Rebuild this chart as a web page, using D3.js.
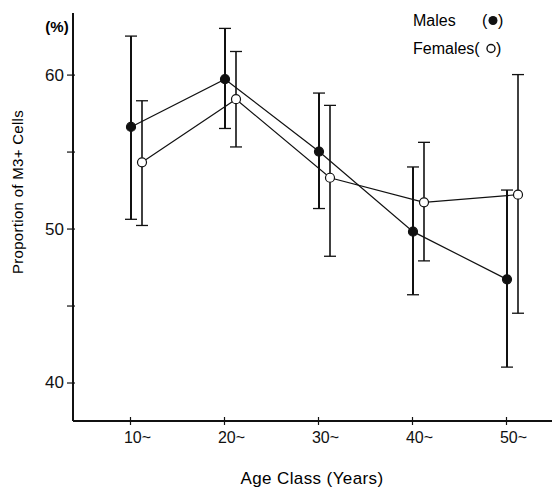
<!DOCTYPE html>
<html>
<head>
<meta charset="utf-8">
<script src="https://cdn.jsdelivr.net/npm/d3@7"></script>
<style>
	body { margin: 0; background: #fff; }
	svg { font-family: "Liberation Sans", Arial, sans-serif; }
	.axis path, .axis line { stroke: #111; }
	.axis text { fill: #111; }
</style>
</head>
<body>
<svg width="552" height="487"></svg>
<script>
(function() {

	//DATA
	var ageClasses = [10, 20, 30, 40, 50];
	var tickLabels = ['10~', '20~', '30~', '40~', '50~'];
	var yTicks = [40, 45, 50, 55, 60];
	var yTickLabels = ['40', '', '50', '', '60'];

	var maleMean = [56.6, 59.7, 55.0, 49.8, 46.7];
	var maleHigh = [62.5, 63.0, 58.8, 54.0, 52.5];
	var maleLow  = [50.6, 56.5, 51.3, 45.7, 41.0];

	var femaleMean = [54.3, 58.4, 53.3, 51.7, 52.2];
	var femaleHigh = [58.3, 61.5, 58.0, 55.6, 60.0];
	var femaleLow  = [50.2, 55.3, 48.2, 47.9, 44.5];

	//VARS
	var svg = d3.select('svg');
	var axisLeft = 73, axisRight = 552, axisTop = 13, axisBottom = 421;
	var femaleShift = 12;

	var x = d3.scaleLinear().domain([10, 50]).range([130, 506]);
	var y = d3.scaleLinear().domain([37.5, 64]).range([axisBottom, axisTop]);

	function rows(mean, high, low, shift) {
		return ageClasses.map(function(a, i) {
			return { x: x(a) + shift, mean: mean[i], high: high[i], low: low[i] };
		});
	}
	var males = rows(maleMean, maleHigh, maleLow, 1);
	var females = rows(femaleMean, femaleHigh, femaleLow, femaleShift);

	// AXES
	svg.append('line')
		.attr('x1', axisLeft).attr('x2', axisLeft)
		.attr('y1', axisTop).attr('y2', axisBottom)
		.attr('stroke', '#111').attr('stroke-width', 2);

	svg.append('line')
		.attr('x1', axisLeft).attr('x2', axisRight)
		.attr('y1', axisBottom).attr('y2', axisBottom)
		.attr('stroke', '#111').attr('stroke-width', 2);

	var yAxis = svg.append('g')
		.attr('class', 'axis')
		.attr('transform', 'translate(' + axisLeft + ',0)')
		.call(d3.axisLeft(y).tickValues(yTicks).tickSize(6).tickPadding(3)
			.tickFormat(function(d, i) { return yTickLabels[i]; }));
	yAxis.select('.domain').remove();
	yAxis.selectAll('line').attr('x2', -6).attr('x1', 2).attr('stroke-width', 1.2);
	yAxis.selectAll('text').style('font-size', '17px');

	var xAxis = svg.append('g')
		.attr('class', 'axis')
		.attr('transform', 'translate(0,' + axisBottom + ')')
		.call(d3.axisBottom(x).tickValues(ageClasses).tickSize(4).tickPadding(7)
			.tickFormat(function(d, i) { return tickLabels[i]; }));
	xAxis.select('.domain').remove();
	xAxis.selectAll('line').attr('y1', -4).attr('stroke-width', 1.2);
	xAxis.selectAll('text').attr('dx', 7).style('font-size', '16px');

	svg.append('text')
		.attr('x', 57).attr('y', 32)
		.attr('text-anchor', 'middle')
		.style('font-size', '15px').style('font-weight', 'bold')
		.text('(%)');

	svg.append('text')
		.attr('transform', 'translate(23,192)rotate(-90)')
		.attr('text-anchor', 'middle')
		.style('font-size', '15px')
		.style('letter-spacing', '0.3px')
		.text('Proportion of M3+ Cells');

	svg.append('text')
		.attr('x', 312).attr('y', 484)
		.attr('text-anchor', 'middle')
		.style('font-size', '17px')
		.style('letter-spacing', '0.4px')
		.text('Age Class (Years)');

	// SERIES
	var line = d3.line()
		.x(function(d) { return d.x; })
		.y(function(d) { return y(d.mean); });

	function drawSeries(data, fill, barWidth) {
		var g = svg.append('g');

		g.append('path')
			.datum(data)
			.attr('fill', 'none')
			.attr('stroke', '#111')
			.attr('stroke-width', 1.2)
			.attr('d', line);

		var bars = g.selectAll('.bar').data(data).enter().append('g');
		bars.append('line')
			.attr('x1', function(d) { return d.x; })
			.attr('x2', function(d) { return d.x; })
			.attr('y1', function(d) { return y(d.high); })
			.attr('y2', function(d) { return y(d.low); })
			.attr('stroke', '#111').attr('stroke-width', barWidth);
		['high', 'low'].forEach(function(k) {
			bars.append('line')
				.attr('x1', function(d) { return d.x - 6; })
				.attr('x2', function(d) { return d.x + 6; })
				.attr('y1', function(d) { return y(d[k]); })
				.attr('y2', function(d) { return y(d[k]); })
				.attr('stroke', '#111').attr('stroke-width', 1.3);
		});

		g.selectAll('.pt').data(data).enter().append('circle')
			.attr('cx', function(d) { return d.x; })
			.attr('cy', function(d) { return y(d.mean); })
			.attr('r', 4.5)
			.attr('fill', fill)
			.attr('stroke', '#111')
			.attr('stroke-width', 1.2);
	}

	drawSeries(females, '#fff', 1.6);
	drawSeries(males, '#111', 2);

	// LEGEND
	var legend = svg.append('g').style('font-size', '16px');
	legend.append('text').attr('x', 413).attr('y', 26).text('Males');
	legend.append('text').attr('x', 482).attr('y', 26).text('(');
	legend.append('circle').attr('cx', 493).attr('cy', 20.5).attr('r', 4.5).attr('fill', '#111');
	legend.append('text').attr('x', 498).attr('y', 26).text(')');
	legend.append('text').attr('x', 413).attr('y', 54).text('Females(');
	legend.append('circle').attr('cx', 491).attr('cy', 48.5).attr('r', 4)
		.attr('fill', '#fff').attr('stroke', '#111').attr('stroke-width', 1.4);
	legend.append('text').attr('x', 496).attr('y', 54).text(')');

})();
</script>
</body>
</html>
